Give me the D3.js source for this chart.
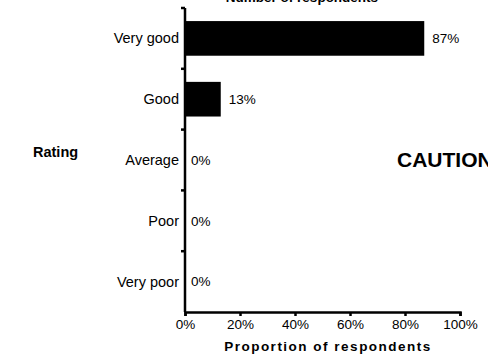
<!DOCTYPE html>
<html><head><meta charset="utf-8">
<script src="https://cdn.jsdelivr.net/npm/d3@7"></script>
<style>
html,body{margin:0;padding:0;background:#fff;overflow:hidden;}
svg{display:block;}
</style></head>
<body>
<script>
const categories = ["Very good","Good","Average","Poor","Very poor"];
const values = [87,13,0,0,0];
const xTicks = [0,20,40,60,80,100];
const title = "Number of respondents";
const xTitle = "Proportion of respondents";
const yTitle = "Rating";
const note = "CAUTION";

const FONT = "'Liberation Sans', Arial, Helvetica, sans-serif";
const W=488,H=355;
const svg=d3.select("body").append("svg").attr("width",W).attr("height",H)
  .attr("font-family",FONT);
const x=d3.scaleLinear().domain([0,100]).range([185,460]);
const y=d3.scaleBand().domain(categories).range([8,312]).paddingInner(0.43).paddingOuter(0.215);

// bars
svg.selectAll("rect.bar").data(values).enter().append("rect")
  .attr("x",x(0)).attr("y",(d,i)=>y(categories[i]))
  .attr("width",d=>x(d)-x(0)).attr("height",y.bandwidth()).attr("fill","#000");

// value labels
svg.selectAll("text.val").data(values).enter().append("text")
  .attr("x",d=>x(d)+(d>0?8:6)).attr("y",(d,i)=>y(categories[i])+y.bandwidth()/2)
  .attr("dy","0.35em").attr("font-size",13.5).text(d=>d+"%");

// y axis line and ticks at category boundaries
svg.append("line").attr("x1",x(0)).attr("x2",x(0)).attr("y1",8).attr("y2",312)
  .attr("stroke","#000").attr("stroke-width",2.5);
const step=y.step();
const bounds=d3.range(categories.length).map(i=>8+i*step);
svg.selectAll("line.yt").data(bounds).enter().append("line")
  .attr("x1",x(0)-4).attr("x2",x(0)).attr("y1",d=>d).attr("y2",d=>d)
  .attr("stroke","#000").attr("stroke-width",2.5);
svg.selectAll("text.cat").data(categories).enter().append("text")
  .attr("x",x(0)-6).attr("y",d=>y(d)+y.bandwidth()/2).attr("dy","0.35em")
  .attr("text-anchor","end").attr("font-size",14.5).text(d=>d);

// x axis
const xa=svg.append("g").attr("transform","translate(0,312)")
  .call(d3.axisBottom(x).tickValues(xTicks).tickFormat(d=>d+"%").tickSize(4).tickPadding(3));
xa.attr("font-family",FONT);
xa.select(".domain").attr("stroke","#000").attr("stroke-width",2.5);
xa.selectAll(".tick line").attr("stroke","#000").attr("stroke-width",2.5);
xa.selectAll(".tick text").attr("font-size",13.5).attr("fill","#000");

// titles
svg.append("text").attr("x",328).attr("y",351).attr("text-anchor","middle")
  .attr("font-size",13.5).attr("font-weight","bold").attr("letter-spacing","1.5px").text(xTitle);
svg.append("text").attr("x",302).attr("y",2).attr("text-anchor","middle")
  .attr("font-size",13.5).attr("font-weight","bold").text(title);
svg.append("text").attr("x",33).attr("y",157).attr("font-size",14.5)
  .attr("font-weight","bold").text(yTitle);
svg.append("text").attr("x",397).attr("y",167).attr("font-size",21)
  .attr("font-weight","bold").text(note);
</script>
</body></html>
